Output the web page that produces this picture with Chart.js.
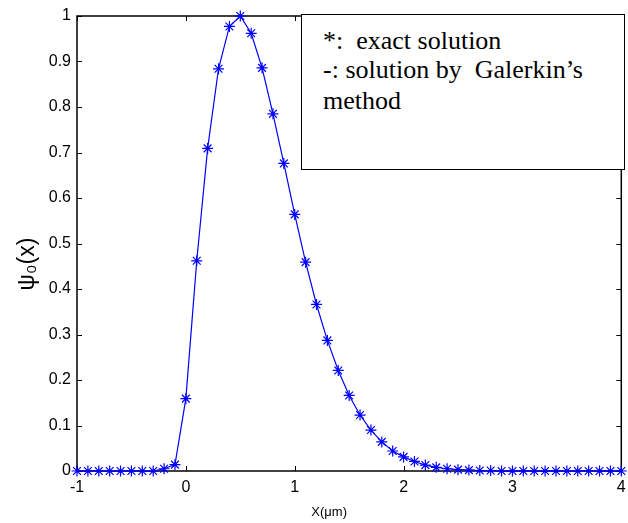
<!DOCTYPE html>
<html>
<head>
<meta charset="utf-8">
<script src="https://cdn.jsdelivr.net/npm/chart.js@4/dist/chart.umd.min.js"></script>
<style>
    html, body { margin: 0; padding: 0; background: #fff; }
    #wrap { position: relative; width: 628px; height: 523px; }
    #note {
        position: absolute; left: 301px; top: 14px; width: 322px; height: 154px;
        border: 1.5px solid #000; background: #fff;
        font-family: "Liberation Serif", "Times New Roman", serif; font-size: 26px;
        color: #000;
    }
    #note div { position: absolute; left: 21px; white-space: pre; line-height: 30px; }
</style>
</head>
<body>
<div id="wrap">
    <canvas id="psi" width="628" height="523"></canvas>
    <div id="note">
        <div style="top:11px">*:  exact solution</div>
        <div style="top:40px">-: solution by  Galerkin’s</div>
        <div style="top:71px">method</div>
    </div>
</div>
<script>
// x positions (um)
const xValues = [-1.0, -0.9, -0.8, -0.7, -0.6, -0.5, -0.4, -0.3, -0.2, -0.1,
    0.0, 0.1, 0.2, 0.3, 0.4, 0.5, 0.6, 0.7, 0.8, 0.9,
    1.0, 1.1, 1.2, 1.3, 1.4, 1.5, 1.6, 1.7, 1.8, 1.9,
    2.0, 2.1, 2.2, 2.3, 2.4, 2.5, 2.6, 2.7, 2.8, 2.9,
    3.0, 3.1, 3.2, 3.3, 3.4, 3.5, 3.6, 3.7, 3.8, 3.9, 4.0];

// psi_0(x)
const psiValues = [0, 0, 0, 0, 0, 0, 0, 0, 0.005, 0.014,
    0.159, 0.462, 0.709, 0.884, 0.977, 1.0, 0.962, 0.886, 0.785, 0.676,
    0.564, 0.459, 0.366, 0.287, 0.221, 0.166, 0.123, 0.090, 0.064, 0.044,
    0.031, 0.021, 0.013, 0.008, 0.005, 0.003, 0.002, 0.001, 0.001, 0,
    0, 0, 0, 0, 0, 0, 0, 0, 0, 0, 0];

const xTicks = [-1, 0, 1, 2, 3, 4];
const yTicks = [0, 0.1, 0.2, 0.3, 0.4, 0.5, 0.6, 0.7, 0.8, 0.9, 1];

const xLabel = 'X(μm)';
const yLabel = 'ψ₀(x)';

const points = xValues.map((x, i) => ({x: x, y: psiValues[i]}));

// box around the plot with inward ticks on all four sides, plus axis labels
const frame = {
    id: 'frame',
    beforeDatasetsDraw(chart) {
        const {ctx, chartArea: a, scales} = chart;
        ctx.save();
        ctx.strokeStyle = '#000';
        ctx.lineWidth = 1;
        const t = 5;
        ctx.beginPath();
        xTicks.forEach(v => {
            const px = Math.round(scales.x.getPixelForValue(v)) + 0.5;
            ctx.moveTo(px, a.bottom); ctx.lineTo(px, a.bottom - t);
            ctx.moveTo(px, a.top); ctx.lineTo(px, a.top + t);
        });
        yTicks.forEach(v => {
            const py = Math.round(scales.y.getPixelForValue(v)) + 0.5;
            ctx.moveTo(a.left, py); ctx.lineTo(a.left + t, py);
            ctx.moveTo(a.right, py); ctx.lineTo(a.right - t, py);
        });
        ctx.stroke();
        ctx.lineWidth = 1.5;
        ctx.strokeRect(a.left, a.top, a.right - a.left, a.bottom - a.top);
        ctx.restore();
    },
    afterDraw(chart) {
        const {ctx, chartArea: a} = chart;
        ctx.save();
        ctx.fillStyle = '#000';
        ctx.textAlign = 'center';
        ctx.textBaseline = 'middle';
        ctx.font = '13px "Liberation Sans", Arial, sans-serif';
        ctx.fillText(xLabel, (a.left + a.right) / 2 - 20, 512);
        ctx.translate(28, 264);
        ctx.rotate(-Math.PI / 2);
        ctx.font = '23px "Liberation Sans", Arial, sans-serif';
        ctx.fillText(yLabel, 0, 0);
        ctx.restore();
    }
};

new Chart(document.getElementById('psi'), {
    type: 'line',
    data: {
        datasets: [{
            data: points,
            borderColor: '#0000ff',
            backgroundColor: '#0000ff',
            borderWidth: 1.2,
            pointStyle: 'star',
            pointRadius: 5.5,
            pointBorderWidth: 1.2,
            pointBorderColor: '#0000ff',
            tension: 0,
            clip: false,
        }],
    },
    options: {
        responsive: false,
        animation: false,
        events: [],
        layout: {
            padding: {top: 16, right: 4, bottom: 0, left: 0},
        },
        plugins: {
            legend: {display: false},
            tooltip: {enabled: false},
        },
        scales: {
            x: {
                type: 'linear',
                min: -1,
                max: 4,
                afterBuildTicks: scale => { scale.ticks = xTicks.map(v => ({value: v})); },
                afterFit: scale => {
                    scale.height = 52;
                    scale.paddingLeft = 0;
                    scale.paddingRight = 0;
                },
                grid: {display: false, drawTicks: false},
                border: {display: false},
                ticks: {
                    color: '#000',
                    padding: 7,
                    callback: v => String(v),
                    font: {family: '"Liberation Sans", Arial, sans-serif', size: 16},
                },
            },
            y: {
                min: 0,
                max: 1,
                afterBuildTicks: scale => { scale.ticks = yTicks.map(v => ({value: v})); },
                afterFit: scale => { scale.width = 77; },
                grid: {display: false, drawTicks: false},
                border: {display: false},
                ticks: {
                    color: '#000',
                    padding: 6,
                    callback: v => String(v),
                    font: {family: '"Liberation Sans", Arial, sans-serif', size: 16},
                },
            },
        },
    },
    plugins: [frame],
});
</script>
</body>
</html>
